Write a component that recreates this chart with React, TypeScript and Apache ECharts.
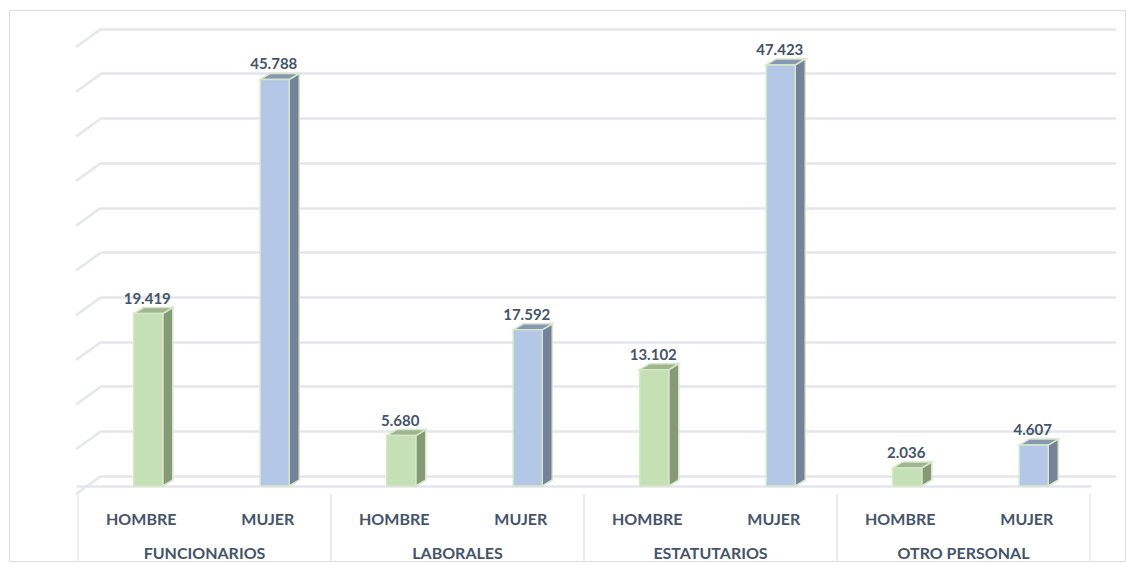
import React, { useEffect, useRef } from "react";
import * as echarts from "echarts";

const subCategories = ["HOMBRE", "MUJER", "HOMBRE", "MUJER", "HOMBRE", "MUJER", "HOMBRE", "MUJER"];
const groups = ["FUNCIONARIOS", "LABORALES", "ESTATUTARIOS", "OTRO PERSONAL"];
const values = [19419, 45788, 5680, 17592, 13102, 47423, 2036, 4607];
const ticks = [0, 5000, 10000, 15000, 20000, 25000, 30000, 35000, 40000, 45000, 50000];

const TEXT = "#44546a";
const GRID = "#e3e6ec";
const FONT = "Lato, 'Open Sans', sans-serif";

const fmt = (v: number) => {
  const s = String(Math.round(v));
  return s.replace(/\B(?=(\d{3})+(?!\d))/g, ".");
};

export default function App() {
  const ref = useRef<HTMLDivElement>(null);
  useEffect(() => {
    if (!ref.current) return;
    const chart = echarts.init(ref.current, undefined, { renderer: "svg" });
    const option: any = {
      animation: false,
      backgroundColor: "#ffffff",
      graphic: [
        {
          type: "rect",
          shape: { x: 9.5, y: 10.5, width: 1116, height: 551 },
          style: { fill: "none", stroke: "#d9dce2", lineWidth: 1 },
          z: -10,
        },
      ],
      grid: [
        { left: 78, top: 42, width: 1012, height: 444, containLabel: false },
        { left: 101, top: 29, width: 1015, height: 447, containLabel: false },
      ],
      xAxis: [
        {
          type: "category",
          gridIndex: 0,
          data: subCategories,
          position: "bottom",
          offset: 8,
          axisLine: { show: true, lineStyle: { color: GRID, width: 2.5 } },
          axisTick: { show: false },
          axisLabel: { color: TEXT, fontFamily: FONT, fontWeight: "bold", fontSize: 16, margin: 16 },
        },
        {
          type: "category",
          gridIndex: 0,
          data: groups,
          position: "bottom",
          offset: 8,
          axisLine: { show: false },
          axisTick: { show: true, length: 68, lineStyle: { color: GRID, width: 1.5 } },
          axisLabel: { color: TEXT, fontFamily: FONT, fontWeight: "bold", fontSize: 16, margin: 50 },
        },
        {
          type: "value",
          gridIndex: 1,
          min: 0,
          max: 1,
          show: false,
        },
      ],
      yAxis: [
        {
          type: "value",
          gridIndex: 0,
          min: 0,
          max: 50000,
          interval: 5000,
          show: false,
          splitLine: { show: false },
        },
        {
          type: "value",
          gridIndex: 1,
          min: 0,
          max: 50000,
          interval: 5000,
          axisLine: { show: false },
          axisTick: { show: false },
          axisLabel: { show: false },
          splitLine: { show: true, lineStyle: { color: GRID, width: 2.5 } },
        },
      ],
      series: [
        {
          type: "custom",
          xAxisIndex: 2,
          yAxisIndex: 1,
          data: ticks.map((t) => [0, t]),
          silent: true,
          renderItem: (params: any, api: any) => {
            const p = api.coord([0, api.value(1)]);
            return {
              type: "line",
              shape: { x1: p[0] - 25, y1: p[1] + 18, x2: p[0], y2: p[1] },
              style: { stroke: GRID, lineWidth: 2.5 },
            };
          },
        },
        {
          type: "custom",
          xAxisIndex: 0,
          yAxisIndex: 0,
          data: values.map((v, i) => [i, v]),
          z: 5,
          renderItem: (params: any, api: any) => {
            const i = api.value(0);
            const v = api.value(1);
            const top = api.coord([i, v]);
            const base = api.coord([i, 0]);
            const cx = top[0] + 7;
            const w = 29;
            const x0 = cx - w / 2;
            const x1 = cx + w / 2;
            const dx = 10;
            const dy = -6;
            const green = i % 2 === 0;
            const front = green ? "#c5e0b4" : "#b4c7e7";
            const side = green ? "#869a77" : "#74839b";
            const topC = green ? "#9fb48f" : "#8898b2";
            const outline = "#d3e8c6";
            return {
              type: "group",
              children: [
                {
                  type: "polygon",
                  shape: { points: [[x1, top[1]], [x1 + dx, top[1] + dy], [x1 + dx, base[1] + dy], [x1, base[1]]] },
                  style: { fill: side, stroke: outline, lineWidth: 1.5 },
                },
                {
                  type: "polygon",
                  shape: { points: [[x0, top[1]], [x0 + dx, top[1] + dy], [x1 + dx, top[1] + dy], [x1, top[1]]] },
                  style: { fill: topC, stroke: outline, lineWidth: 1.5 },
                },
                {
                  type: "rect",
                  shape: { x: x0, y: top[1], width: w, height: base[1] - top[1] },
                  style: { fill: front, stroke: outline, lineWidth: 1.5 },
                },
                {
                  type: "text",
                  x: cx - 1,
                  y: top[1] - 16,
                  style: {
                    text: fmt(v),
                    fill: TEXT,
                    font: `bold 15px ${FONT}`,
                    align: "center",
                    verticalAlign: "middle",
                  },
                },
              ],
            };
          },
        },
      ],
    };
    chart.setOption(option);
    return () => chart.dispose();
  }, []);
  return <div ref={ref} style={{ position: "absolute", left: 0, top: 0, width: 1126, height: 563 }} />;
}
